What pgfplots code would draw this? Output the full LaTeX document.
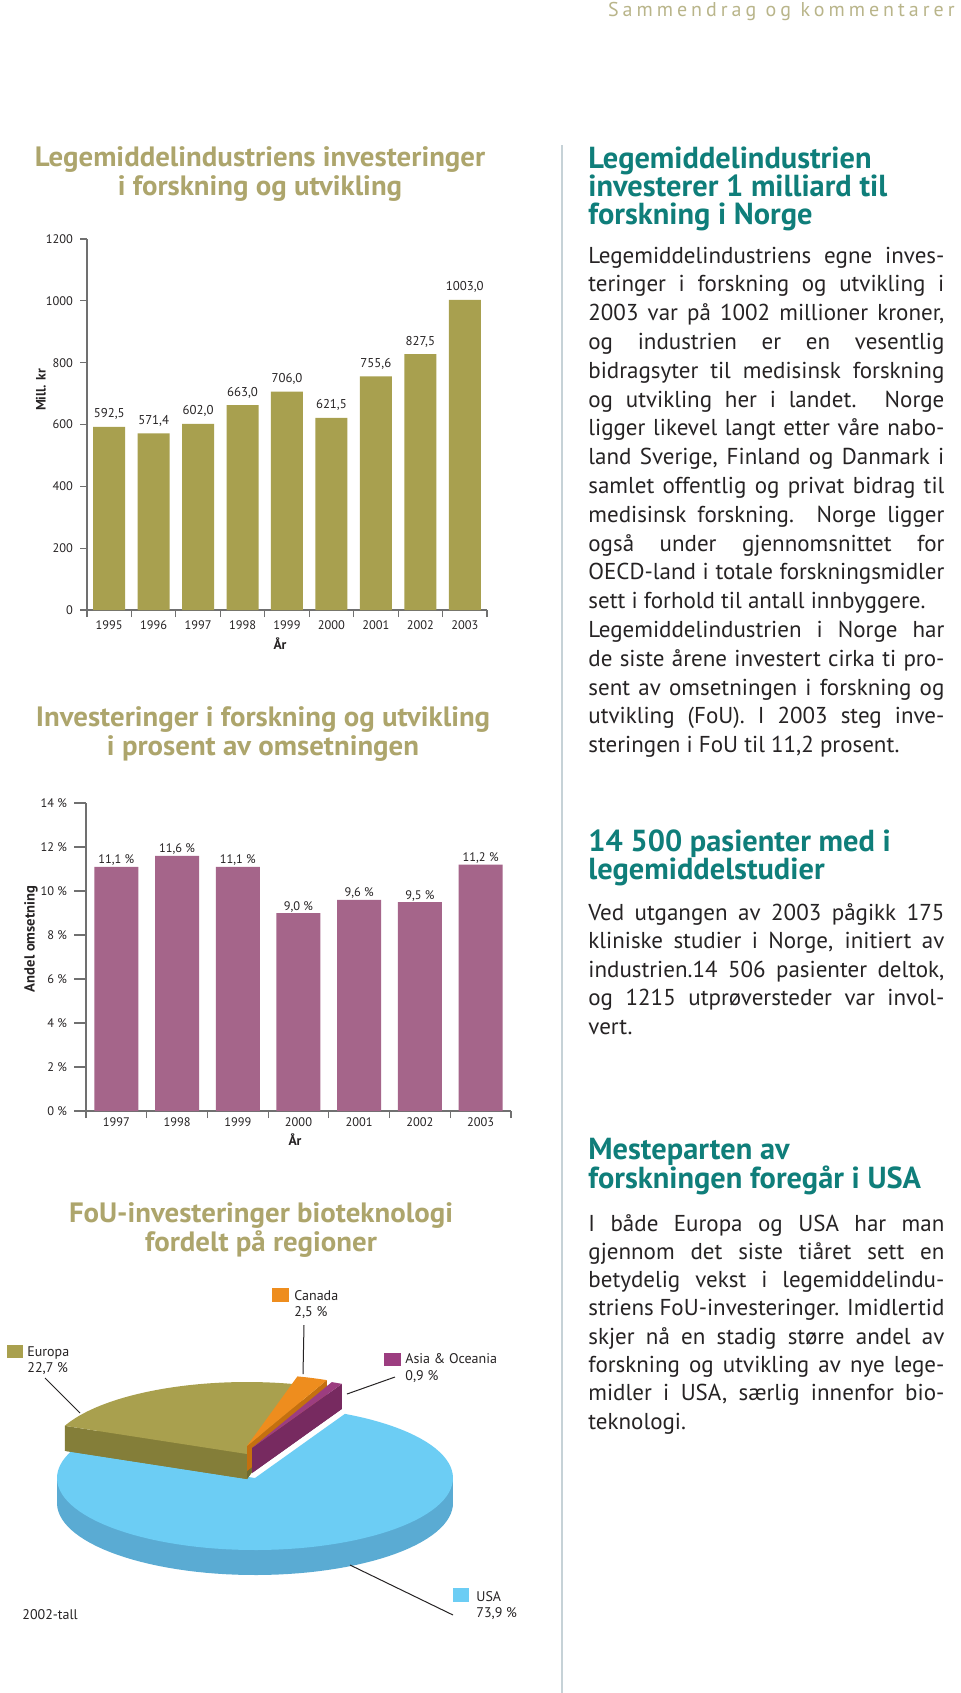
\documentclass[border=0pt]{standalone}
\usepackage{fontspec}
\setmainfont{PT Sans}
\newfontfamily\condfont{PT Sans}[FakeStretch=1.03]
\usepackage{pgfplots}
\pgfplotsset{compat=1.18}

\definecolor{barolive}{HTML}{A8A04F}
\definecolor{titleolive}{HTML}{ADA56C}
\definecolor{headolive}{HTML}{B9B58A}
\definecolor{mauve}{HTML}{A5658A}
\definecolor{teal}{HTML}{0F7E7A}
\definecolor{txt}{HTML}{262324}
\definecolor{axisgray}{HTML}{707070}
\definecolor{sepcol}{HTML}{C6D2D7}
\definecolor{usatop}{HTML}{6CCDF4}
\definecolor{usaside}{HTML}{5AABD3}
\definecolor{eurtop}{HTML}{A9A04E}
\definecolor{eurside}{HTML}{847E39}
\definecolor{cantop}{HTML}{EE8D1E}
\definecolor{canside}{HTML}{C4700F}
\definecolor{asitop}{HTML}{9C3D80}
\definecolor{asiside}{HTML}{772A60}

\newcommand\tickfont{\fontsize{6.2}{7}\selectfont}
\newcommand\bodyfont{\fontsize{11.5}{14}\selectfont}
\newcommand\headfont{\fontsize{15.2}{15}\selectfont\bfseries}
\newcommand\titlefont{\condfont\fontsize{14}{15}\selectfont\bfseries}
\newcommand\piefont{\fontsize{7}{8}\selectfont}

% pie shares in percent
\def\pAsia{0.9}
\def\pCanada{2.5}
\def\pEuropa{22.7}
\def\pUSA{73.9}
\pgfmathsetmacro\angA{63}
\pgfmathsetmacro\angB{\angA+\pAsia*3.6}
\pgfmathsetmacro\angC{\angB+\pCanada*3.6}
\pgfmathsetmacro\angD{\angC+\pEuropa*3.6}
\pgfmathsetmacro\angE{\angD+\pUSA*3.6}
% radial side faces of the pulled-out slices
\pgfmathsetmacro\eAx{-8+198*cos(\angD)}\pgfmathsetmacro\eAy{24+72*sin(\angD)}
\pgfmathsetmacro\eAz{\eAy-25}
\pgfmathsetmacro\eBx{-8+198*cos(\angC)}\pgfmathsetmacro\eBy{24+72*sin(\angC)}
\pgfmathsetmacro\eBz{\eBy-25}
\pgfmathsetmacro\cAx{-8+198*cos(\angB)}\pgfmathsetmacro\cAy{32+72*sin(\angB)}
\pgfmathsetmacro\cAz{\cAy-25}
\pgfmathsetmacro\aAx{-3+198*cos(\angA)}\pgfmathsetmacro\aAy{30+72*sin(\angA)}
\pgfmathsetmacro\aAz{\aAy-25}

\newcommand\jl[2]{\node[anchor=base west, inner sep=0pt, font=\bodyfont, text=txt] at (588,#1) {\makebox[178pt][s]{#2}};}
\newcommand\lastl[2]{\node[anchor=base west, inner sep=0pt, font=\bodyfont, text=txt] at (588,#1) {#2};}
\newcommand\hl[2]{\node[anchor=base west, inner sep=0pt, font=\headfont, text=teal] at (588,#1) {#2};}

\begin{document}
\begin{tikzpicture}[x=0.5pt,y=-0.5pt]
\fill[white] (0,0) rectangle (960,1693);
\path[use as bounding box] (0,0) rectangle (960,1693);

\node[anchor=base east, inner sep=0pt, text=headolive, font=\fontsize{10}{11}\selectfont\addfontfeatures{LetterSpace=20}] at (955,16) {Sammendrag og kommentarer};
\draw[sepcol, line width=1.2pt] (562,145) -- (562,1693);

% ---------- chart 1 ----------
\node[anchor=base, inner sep=0pt, text=titleolive, font=\titlefont] at (260,166) {Legemiddelindustriens investeringer};
\node[anchor=base, inner sep=0pt, text=titleolive, font=\titlefont] at (260,195) {i forskning og utvikling};

% axis positions in pt (1 px = 0.5pt, y downward)
\begin{axis}[at={(43.5pt,-305pt)}, anchor=south west, scale only axis,
  width=200pt, height=185.5pt,
  xmin=-0.5, xmax=8.5, ymin=0, ymax=1200,
  axis lines=left, axis line style={draw=axisgray, line width=0.6pt, -},
  tick align=outside, major tick length=3.5pt, minor tick length=3.5pt,
  tick style={draw=axisgray, line width=0.6pt},
  major x tick style={draw=none},
  xtick={0,1,2,3,4,5,6,7,8},
  xticklabels={1995,1996,1997,1998,1999,2000,2001,2002,2003},
  xticklabel style={yshift=1.6pt},
  minor xtick={-0.5,0.5,...,8.5},
  ytick={0,200,...,1200}, yticklabels={0,200,400,600,800,1000,1200},
  tick label style={font=\tickfont, text=txt},
  ybar, bar width=16pt,
  nodes near coords,
  every node near coord/.append style={font=\fontsize{6.4}{7}\selectfont, text=txt,
    /pgf/number format/fixed, /pgf/number format/fixed zerofill,
    /pgf/number format/precision=1, /pgf/number format/use comma,
    /pgf/number format/1000 sep={}, /pgf/number format/assume math mode=true}]
\addplot[fill=barolive, draw=none] coordinates {
  (0,592.5) (1,571.4) (2,602.0) (3,663.0) (4,706.0) (5,621.5) (6,755.6) (7,827.5) (8,1003.0)};
\end{axis}
\node[font=\fontsize{6.8}{7}\selectfont\bfseries, text=txt] at (280,644) {År};
\node[font=\fontsize{6.8}{7}\selectfont\bfseries, text=txt, rotate=90] at (41,390) {Mill. kr};

% ---------- chart 2 ----------
\node[anchor=base, inner sep=0pt, text=titleolive, font=\titlefont] at (263,726) {Investeringer i forskning og utvikling};
\node[anchor=base, inner sep=0pt, text=titleolive, font=\titlefont] at (263,755) {i prosent av omsetningen};

\begin{axis}[at={(43pt,-555.5pt)}, anchor=south west, scale only axis,
  width=212.5pt, height=154pt,
  xmin=-0.5, xmax=6.5, ymin=0, ymax=14,
  axis lines=left, axis line style={draw=axisgray, line width=0.6pt, -},
  tick align=outside, major tick length=6pt, minor tick length=3.5pt,
  tick style={draw=axisgray, line width=0.6pt},
  major x tick style={draw=none},
  xtick={0,1,2,3,4,5,6},
  xticklabels={1997,1998,1999,2000,2001,2002,2003},
  xticklabel style={yshift=6.3pt},
  minor xtick={-0.5,0.5,...,6.5},
  ytick={0,2,...,14}, yticklabels={0 \%,2 \%,4 \%,6 \%,8 \%,10 \%,12 \%,14 \%},
  tick label style={font=\tickfont, text=txt},
  ybar, bar width=22pt,
  nodes near coords={\pgfmathprintnumber{\pgfplotspointmeta} \%},
  every node near coord/.append style={font=\tickfont, text=txt, yshift=-3pt,
    /pgf/number format/fixed, /pgf/number format/fixed zerofill,
    /pgf/number format/precision=1, /pgf/number format/use comma,
    /pgf/number format/assume math mode=true}]
\addplot[fill=mauve, draw=none] coordinates {
  (0,11.1) (1,11.6) (2,11.1) (3,9.0) (4,9.6) (5,9.5) (6,11.2)};
\end{axis}
\node[font=\fontsize{6.8}{7}\selectfont\bfseries, text=txt] at (295,1140) {År};
\node[font=\fontsize{7.3}{8}\selectfont\bfseries, text=txt, rotate=90] at (31,939) {Andel omsetning};

% ---------- pie ----------
\node[anchor=base, inner sep=0pt, text=titleolive, font=\titlefont] at (261,1222) {FoU-investeringer bioteknologi};
\node[anchor=base, inner sep=0pt, text=titleolive, font=\titlefont] at (261,1251) {fordelt på regioner};

\begin{axis}[at={(127.5pt,-739pt)}, anchor=origin, x=0.5pt, y=0.5pt,
  xmin=-210, xmax=210, ymin=-40, ymax=140, hide axis, clip=false, samples=90]
% USA
\addplot[fill=usaside, draw=none, domain=\angD:\angE] ({198*cos(x)},{-25+72*sin(x)}) -- (axis cs:0,-25) -- cycle;
\addplot[fill=usaside, draw=none] coordinates {(-198,0) (198,0) (198,-25) (-198,-25)} -- cycle;
\addplot[fill=usatop, draw=none, domain=\angD:\angE] ({198*cos(x)},{72*sin(x)}) -- (axis cs:0,0) -- cycle;
% Europa
\addplot[fill=eurside, draw=none, domain=\angC:\angD] ({-8+198*cos(x)},{-1+72*sin(x)}) -- (axis cs:-8,-1) -- cycle;
\addplot[fill=eurside, draw=none] coordinates {(-8,24) (\eAx,\eAy) (\eAx,\eAz) (-8,-1)} -- cycle;
\addplot[fill=eurside!85!black, draw=none] coordinates {(-8,24) (\eBx,\eBy) (\eBx,\eBz) (-8,-1)} -- cycle;
\addplot[fill=eurtop, draw=none, domain=\angC:\angD] ({-8+198*cos(x)},{24+72*sin(x)}) -- (axis cs:-8,24) -- cycle;
% Canada
\addplot[fill=canside, draw=none, domain=\angB:\angC] ({-8+198*cos(x)},{7+72*sin(x)}) -- (axis cs:-8,7) -- cycle;
\addplot[fill=canside, draw=none] coordinates {(-8,32) (\cAx,\cAy) (\cAx,\cAz) (-8,7)} -- cycle;
\addplot[fill=cantop, draw=none, domain=\angB:\angC] ({-8+198*cos(x)},{32+72*sin(x)}) -- (axis cs:-8,32) -- cycle;
% Asia & Oceania
\addplot[fill=asiside, draw=none, domain=\angA:\angB] ({-3+198*cos(x)},{5+72*sin(x)}) -- (axis cs:-3,5) -- cycle;
\addplot[fill=asiside, draw=none] coordinates {(-3,30) (\aAx,\aAy) (\aAx,\aAz) (-3,5)} -- cycle;
\addplot[fill=asitop, draw=none, domain=\angA:\angB] ({-3+198*cos(x)},{30+72*sin(x)}) -- (axis cs:-3,30) -- cycle;
\end{axis}

% pie labels
\draw[txt, line width=0.5pt] (45,1378) -- (80,1413);
\draw[txt, line width=0.5pt] (304,1325) -- (303,1374);
\draw[txt, line width=0.5pt] (395,1377) -- (347,1394);
\draw[txt, line width=0.5pt] (350,1565) -- (453,1615);
\fill[eurtop] (7,1345) rectangle (23,1358);
\fill[cantop] (272,1288) rectangle (289,1302);
\fill[asitop] (384,1353) rectangle (401,1366);
\fill[usatop] (453,1588) rectangle (469,1602);
\node[anchor=base west, inner sep=0pt, font=\piefont, text=txt] at (27,1356) {Europa};
\node[anchor=base west, inner sep=0pt, font=\piefont, text=txt] at (27,1372) {22,7 \%};
\node[anchor=base west, inner sep=0pt, font=\piefont, text=txt] at (294,1300) {Canada};
\node[anchor=base west, inner sep=0pt, font=\piefont, text=txt] at (294,1316) {2,5 \%};
\node[anchor=base west, inner sep=0pt, font=\piefont, text=txt] at (405,1363) {Asia \& Oceania};
\node[anchor=base west, inner sep=0pt, font=\piefont, text=txt] at (405,1380) {0,9 \%};
\node[anchor=base west, inner sep=0pt, font=\piefont, text=txt] at (476,1601) {USA};
\node[anchor=base west, inner sep=0pt, font=\piefont, text=txt] at (476,1617) {73,9 \%};
\node[anchor=base west, inner sep=0pt, font=\piefont, text=txt] at (22,1619) {2002-tall};

% ---------- right column ----------
\hl{168}{Legemiddelindustrien}
\hl{196}{investerer 1 milliard til}
\hl{224}{forskning i Norge}
\jl{263}{Legemiddelindustriens egne inves-}
\jl{291.8}{teringer i forskning og utvikling i}
\jl{320.6}{2003 var på 1002 millioner kroner,}
\jl{349.4}{og industrien er en vesentlig}
\jl{378.2}{bidragsyter til medisinsk forskning}
\jl{407}{og utvikling her i landet. Norge}
\jl{435.8}{ligger likevel langt etter våre nabo-}
\jl{464.6}{land Sverige, Finland og Danmark i}
\jl{493.4}{samlet offentlig og privat bidrag til}
\jl{522.2}{medisinsk forskning. Norge ligger}
\jl{551}{også under gjennomsnittet for}
\jl{579.8}{OECD-land i totale forskningsmidler}
\lastl{608.6}{sett i forhold til antall innbyggere.}
\jl{637.4}{Legemiddelindustrien i Norge har}
\jl{666.2}{de siste årene investert cirka ti pro-}
\jl{695}{sent av omsetningen i forskning og}
\jl{723.8}{utvikling (FoU). I 2003 steg inve-}
\lastl{752.6}{steringen i FoU til 11,2 prosent.}

\hl{851}{14 500 pasienter med i}
\hl{879}{legemiddelstudier}
\jl{920}{Ved utgangen av 2003 pågikk 175}
\jl{948.5}{kliniske studier i Norge, initiert av}
\jl{977}{industrien.14 506 pasienter deltok,}
\jl{1005.5}{og 1215 utprøversteder var invol-}
\lastl{1034}{vert.}

\hl{1159}{Mesteparten av}
\hl{1188}{forskningen foregår i USA}
\jl{1231}{I både Europa og USA har man}
\jl{1259.3}{gjennom det siste tiåret sett en}
\jl{1287.6}{betydelig vekst i legemiddelindu-}
\jl{1315.9}{striens FoU-investeringer. Imidlertid}
\jl{1344.2}{skjer nå en stadig større andel av}
\jl{1372.5}{forskning og utvikling av nye lege-}
\jl{1400.8}{midler i USA, særlig innenfor bio-}
\lastl{1429.1}{teknologi.}
\end{tikzpicture}
\end{document}
